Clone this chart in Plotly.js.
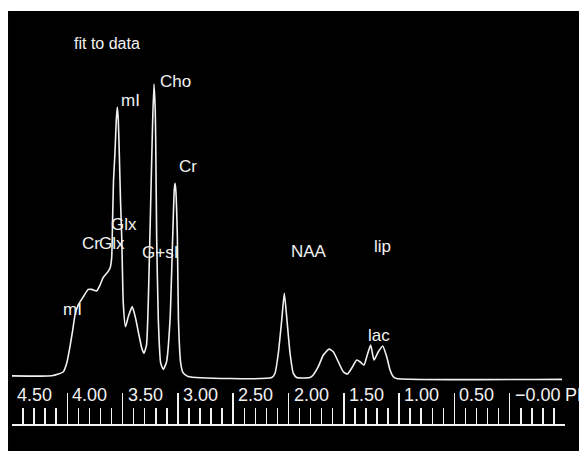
<!DOCTYPE html>
<html>
<head>
<meta charset="utf-8">
<script src="https://cdn.plot.ly/plotly-3.0.1.min.js"></script>
<style>html,body{margin:0;padding:0;background:#fff;}#chart{width:579px;height:451px;}</style>
</head>
<body>
<div id="chart"></div>
<script>
// Spectrum (chemical shift in ppm, intensity in arbitrary units, Cho peak = 100)
const ppm = [4.500,4.141,4.081,4.036,4.005,3.976,3.951,3.930,3.901,3.855,3.810,3.779,3.734,3.704,3.675,3.637,3.614,3.599,3.590,3.582,3.569,3.557,3.548,3.539,3.530,3.519,3.508,3.494,3.474,3.447,3.413,3.383,3.352,3.325,3.307,3.284,3.268,3.246,3.228,3.216,3.205,3.201,3.192,3.177,3.156,3.132,3.103,3.071,3.047,3.033,3.026,3.019,3.005,2.995,2.975,2.954,2.909,2.152,2.122,2.092,2.061,2.038,2.014,1.986,1.957,1.926,1.806,1.776,1.731,1.685,1.634,1.595,1.550,1.505,1.468,1.429,1.383,1.354,1.317,1.288,1.257,1.227,1.188,1.148,1.112,1.082,1.052,1.022,-0.473];
const intensity = [0.4,0.4,1.0,1.8,4.8,10.3,16.0,21.2,24.6,27.4,29.9,29.9,29.4,31.4,34.0,35.7,37.1,40.6,54.6,67.2,76.5,87.7,92.1,87.7,76.5,60.4,47.9,25.3,17.2,20.8,24.0,20.1,14.3,9.6,8.1,10.9,25.3,59.4,87.7,100.0,91.1,82.0,47.9,19.5,4.8,2.6,5.1,19.5,47.9,63.8,66.1,63.8,47.9,19.5,4.8,1.5,0.2,-0.2,1.3,8.1,19.5,28.6,19.5,8.1,1.3,-0.2,-0.2,0.7,3.5,7.5,9.5,8.6,5.2,1.8,1.0,3.0,5.8,5.2,4.1,7.5,10.9,5.8,8.6,10.6,6.9,2.4,0.1,-0.5,-0.8];

// Axis ticks
const tickValues = [4.5,4.0,3.5,3.0,2.5,2.0,1.5,1.0,0.5,0.0,-0.5];
const tickLabels = ['4.50','4.00','3.50','3.00','2.50','2.00','1.50','1.00','0.50','\u22120.00','PPM'];

// Peak labels (text, ppm, intensity)
const labelText = ['fit to data','Cho','mI','Cr','Glx','Cr','Glx','G+sI','mI','NAA','lip','lac'];
const labelPpm = [3.960,3.180,3.533,3.008,3.623,3.885,3.735,3.343,4.060,1.993,1.248,1.299];
const labelHeight = [113.9,100.8,94.5,71.8,51.9,45.6,45.6,42.4,22.9,42.8,44.7,14.3];

const FONT = 'Liberation Sans, Arial, Helvetica, sans-serif';
const FG = '#f2f2f2';

const annotations = [];
labelText.forEach((t, i) => {
  annotations.push({
    x: labelPpm[i], y: labelHeight[i], xref: 'x', yref: 'y',
    text: t, showarrow: false, xanchor: 'left', yanchor: 'middle',
    font: {family: FONT, size: i === 0 ? 16 : 17, color: FG}
  });
});
tickValues.forEach((v, i) => {
  annotations.push({
    x: v, y: 0.0702, xref: 'x', yref: 'paper',
    text: tickLabels[i], showarrow: false, xanchor: 'left', yanchor: 'middle',
    xshift: i === tickValues.length - 1 ? -2 : 3,
    font: {family: FONT, size: 18, color: FG}
  });
});

const trace = {
  x: ppm, y: intensity, type: 'scatter', mode: 'lines',
  line: {color: FG, width: 1.6, shape: 'spline', smoothing: 0.5},
  hoverinfo: 'skip'
};

const layout = {
  width: 579, height: 451,
  margin: {l: 12, r: 14, t: 11, b: 27, pad: 0},
  paper_bgcolor: '#ffffff',
  plot_bgcolor: 'rgba(0,0,0,0)',
  showlegend: false,
  xaxis: {
    range: [4.5, -0.5], autorange: false,
    tickmode: 'array', tickvals: tickValues, showticklabels: false,
    ticks: 'inside', ticklen: 31, tickwidth: 1.5, tickcolor: FG,
    minor: {tickmode: 'linear', tick0: 0, dtick: 0.1, ticks: 'inside', ticklen: 16, tickwidth: 1.5, tickcolor: FG, showgrid: false},
    showline: true, linecolor: FG, linewidth: 2,
    showgrid: false, zeroline: false, fixedrange: true
  },
  yaxis: {
    range: [-16.04, 124.9], autorange: false, visible: false, fixedrange: true
  },
  shapes: [{
    type: 'rect', xref: 'paper', yref: 'paper', layer: 'below',
    x0: -0.0072, x1: 1.05, y0: -0.1, y1: 1.0,
    fillcolor: '#000000', line: {width: 0}
  }],
  annotations: annotations
};

Plotly.newPlot('chart', [trace], layout, {displayModeBar: false, staticPlot: true});
</script>
</body>
</html>
